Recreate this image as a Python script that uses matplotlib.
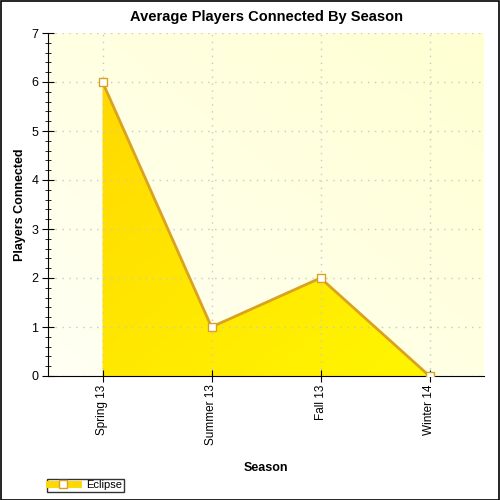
import numpy as np
import matplotlib.pyplot as plt
from matplotlib.colors import LinearSegmentedColormap
from matplotlib.patches import Polygon, Rectangle
from matplotlib.lines import Line2D
from matplotlib.ticker import MultipleLocator

plt.rcParams['font.family'] = ['Liberation Sans', 'DejaVu Sans']

seasons = ['Spring 13', 'Summer 13', 'Fall 13', 'Winter 14']
players = [6, 1, 2, 0]
series_name = 'Eclipse'

fig = plt.figure(figsize=(5, 5), dpi=100)
fig.patch.set_facecolor('white')
fig.add_artist(Rectangle((0.001, 0.001), 0.997, 0.997, transform=fig.transFigure,
                         fill=False, edgecolor='black', linewidth=1.2))

ax = fig.add_axes([0.096, 0.248, 0.872, 0.686])
x = np.arange(len(seasons))
ax.set_xlim(-0.5, len(seasons) - 0.5)
ax.set_ylim(0, 7)

# background gradient
bg = LinearSegmentedColormap.from_list('bg', ['#fffff4', '#ffffd2'])
gx, gy = np.meshgrid(np.linspace(0, 1, 200), np.linspace(0, 1, 200))
ax.imshow((gx + (1 - gy)) / 2, cmap=bg, extent=[-0.5, 3.5, 0, 7], aspect='auto',
          origin='upper', zorder=0)

# area fill with gradient, gold at top-left to yellow at bottom-right
fillcm = LinearSegmentedColormap.from_list('fill', ['#ffd400', '#ffe600', '#fff800'])
verts = [(x[0], 0)] + list(zip(x, players)) + [(x[-1], 0)]
poly = Polygon(verts, closed=True, facecolor='none', edgecolor='none')
ax.add_patch(poly)
im = ax.imshow((gx + (1 - gy)) / 2, cmap=fillcm, extent=[-0.5, 3.5, 0, 7], aspect='auto',
               origin='lower', zorder=1)
im.set_clip_path(poly)

ax.plot(x, players, color='#d9a21f', linewidth=2, zorder=3)
ax.plot(x, players, linestyle='none', marker='s', markersize=6,
        markerfacecolor='white', markeredgecolor='#d9a21f', markeredgewidth=1, zorder=4)

ax.set_xticks(x)
ax.set_xticklabels(seasons, rotation=90, fontsize=8.5)
ax.yaxis.set_major_locator(MultipleLocator(1))
ax.yaxis.set_minor_locator(MultipleLocator(0.2))
ax.tick_params(axis='y', which='major', direction='inout', length=8, labelsize=9, pad=3)
ax.tick_params(axis='y', which='minor', direction='inout', length=5)
ax.tick_params(axis='x', which='major', direction='inout', length=8, labelsize=8.5, pad=2)
ax.grid(True, which='major', color='#c8c8c8', linestyle=(0, (1, 4)), linewidth=1, zorder=2)
ax.set_axisbelow(False)
for s in ['top', 'right']:
    ax.spines[s].set_visible(False)

ax.set_title('Average Players Connected By Season', fontsize=10.5, fontweight='bold', pad=9)
ax.set_xlabel('Season', fontsize=9, fontweight='bold', labelpad=12)
ax.set_ylabel('Players Connected', fontsize=9, fontweight='bold', labelpad=4)

handle = Line2D([0], [0], color='#ffd800', linewidth=5, marker='s', markersize=6,
                markerfacecolor='white', markeredgecolor='#d9a21f')
fig.legend([handle], [series_name], loc='lower left', bbox_to_anchor=(0.094, 0.016),
           fontsize=8, frameon=True, fancybox=False, edgecolor='black',
           borderpad=0.15, handlelength=2.6, handletextpad=0.8, borderaxespad=0)

fig.savefig('out.png', dpi=100)
